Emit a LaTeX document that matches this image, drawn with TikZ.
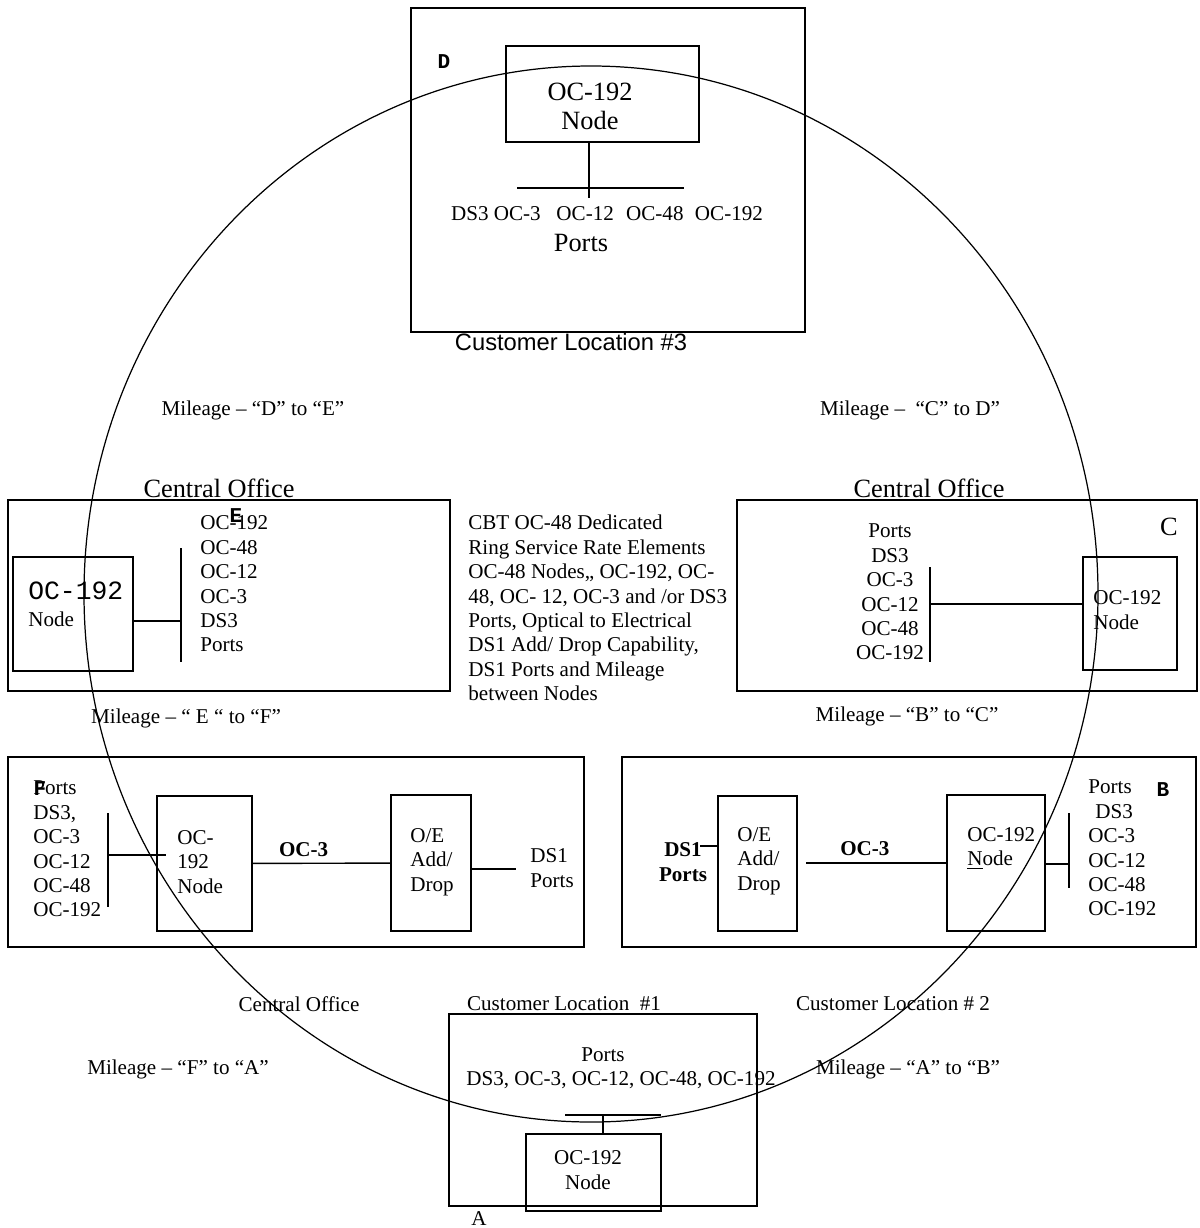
\documentclass[tikz,border=0pt]{standalone}
\usepackage{fontspec}
\setmainfont{Liberation Serif}
\setsansfont{Liberation Sans}
\setmonofont{Liberation Mono}
\usepackage{tikz}
\usetikzlibrary{positioning,calc}
\tikzset{
  box/.style 2 args={rectangle, draw, line width=0.9pt, inner sep=0pt,
                     minimum width=#1*0.02cm, minimum height=#2*0.02cm},
  txt/.style={inner sep=0pt, align=left, font=\fontsize{12}{13.9}\selectfont},
  bold/.style={inner sep=0pt, align=center, font=\fontsize{12}{13.9}\selectfont\bfseries},
  big/.style={inner sep=0pt, align=center, font=\fontsize{15}{16.5}\selectfont},
  tag/.style={inner sep=0pt, font=\ttfamily\bfseries\fontsize{12}{12}\selectfont},
  wire/.style={line width=0.8pt},
  ring/.style={line width=0.7pt},
}

\begin{document}
\begin{tikzpicture}[x=0.02cm, y=-0.02cm]
  \useasboundingbox (0,0) rectangle (1200,1228);
  \draw[ring] (591,594) ellipse [x radius=507, y radius=528];

  % customer location 3
  \node[box={394}{324}] (cl3) at (608,170) {};
  \node[box={193}{96}] (n3) at (602.5,94) {};
  \node[big] (n3t) at (590,106) {OC-192\\Node};
  \node[tag] (tD) at (444,62) {D};
  \coordinate (b3l) at (517,188); \coordinate (b3r) at (684,188); \coordinate (b3) at (589,198);
  \draw[wire] (b3l) -- (b3r);
  \draw[wire] (b3 |- n3.south) -- (b3);
  \node[txt] (p3) at (607,214) {DS3 OC-3\hspace{9pt}OC-12\hspace{7pt}OC-48\hspace{6.5pt}OC-192};
  \node[big] (p3b) at (581,243) {Ports};
  \node[inner sep=0pt, font=\sffamily\fontsize{13.5}{15}\selectfont] (cl3t) at (571,342) {Customer Location \#3};

  \node[txt] (m1) at (253,410) {Mileage – “D” to “E”};
  \node[txt] (m2) at (910,410) {Mileage –\ \ “C” to D”};

  % central office E
  \node[big] (co1) at (219,488) {Central Office};
  \node[box={442}{191}] (ce) at (229,595.5) {};
  \node[box={120}{114}] (ne) at (73,614) {};
  \node[inner sep=0pt, anchor=west, font=\ttfamily\fontsize{15}{15}\selectfont] (ne1) at (28,591) {OC-192};
  \node[txt, anchor=west] (ne2) at (28,619) {Node};
  \coordinate (be1) at (181,548); \coordinate (be2) at (181,662); \coordinate (be) at (181,621);
  \draw[wire] (be1) -- (be2);
  \draw[wire] (be -| ne.east) -- (be);
  \node[txt, anchor=west] (pe) at (200,584) {OC-192\\OC-48\\OC-12\\OC-3\\DS3\\Ports};
  \node[tag] (tE) at (236,516) {E};

  \node[txt, anchor=west] (cbt) at (468,608) {CBT OC-48 Dedicated\\Ring Service Rate Elements\\OC-48 Nodes,, OC-192, OC-\\48, OC- 12, OC-3 and /or DS3\\Ports, Optical to Electrical\\DS1 Add/ Drop Capability,\\DS1 Ports and Mileage\\between Nodes};

  % central office C
  \node[big] (co2) at (929,488) {Central Office};
  \node[box={460}{191}] (cc) at (967,595.5) {};
  \node[big] (tC) at (1169,527) {C};
  \node[box={94}{113}] (nc) at (1130,613.5) {};
  \node[txt, anchor=west] (nct) at (1093,610) {OC-192\\Node};
  \coordinate (bc1) at (930,567); \coordinate (bc2) at (930,662); \coordinate (bc) at (930,604);
  \draw[wire] (bc1) -- (bc2);
  \draw[wire] (bc) -- (bc -| nc.west);
  \node[txt, align=center] (pc) at (890,592) {Ports\\DS3\\OC-3\\OC-12\\OC-48\\OC-192};

  \node[txt] (m3) at (186,718) {Mileage – “ E “ to “F”};
  \node[txt] (m4) at (907,716) {Mileage – “B” to “C”};

  % central office F
  \node[box={576}{190}] (cf) at (296,852) {};
  \node[txt, anchor=west] (pf) at (33,849) {Ports\\DS3,\\OC-3\\OC-12\\OC-48\\OC-192};
  \node[tag] (tF) at (40,789) {F};
  \coordinate (bf1) at (108,813); \coordinate (bf2) at (108,907);
  \coordinate (bf) at (108,855); \coordinate (bfe) at (166,855);
  \draw[wire] (bf1) -- (bf2);
  \draw[wire] (bf) -- (bfe);
  \node[box={95}{135}] (nf) at (204.5,863.5) {};
  \node[txt, anchor=west] (nft) at (177,862) {OC-\\192\\Node};
  \node[box={80}{136}] (oef) at (431,863) {};
  \node[txt, anchor=west] (oeft) at (410,862) {O/E\\Add/\\Drop};
  \draw[wire] (nf) -- node[pos=0.37, above=3.5pt, bold] {OC-3} (oef);
  \coordinate (df) at (516,869);
  \draw[wire] (oef.east |- df) -- (df);
  \node[txt, anchor=west] (dff) at (530,868) {DS1\\Ports};

  % customer location 2
  \node[box={574}{190}] (cb) at (909,852) {};
  \node[bold] (db) at (683,862) {DS1\\Ports};
  \node[box={79}{135}] (oeb) at (757.5,863.5) {};
  \node[txt, anchor=west] (oebt) at (737,861) {O/E\\Add/\\Drop};
  \coordinate (dbe) at (700,846);
  \draw[wire] (dbe) -- (dbe -| oeb.west);
  \node[box={98}{136}] (nb) at (996,863) {};
  \node[txt, anchor=west] (nbt) at (967,848) {OC-192\\\underline{N}ode};
  \coordinate (gb) at (806,863);
  \draw[wire] (gb) -- node[pos=0.42, above=3.5pt, bold] {OC-3} (nb.west);
  \coordinate (bb1) at (1069,813); \coordinate (bb2) at (1069,888); \coordinate (bb) at (1069,864);
  \draw[wire] (bb1) -- (bb2);
  \draw[wire] (bb -| nb.east) -- (bb);
  \node[txt, anchor=west] (pb) at (1088,848) {Ports\\\hspace*{4pt}DS3\\OC-3\\OC-12\\OC-48\\OC-192};
  \node[tag] (tB) at (1163,790) {B};

  \node[txt] (co3) at (299,1004) {Central Office};
  \node[txt] (cl1) at (564,1004) {Customer Location\ \ \#1};
  \node[txt] (cl2) at (893,1004) {Customer Location \# 2};
  \node[txt] (m5) at (178,1069) {Mileage – “F” to “A”};
  \node[txt] (m6) at (908,1069) {Mileage – “A” to “B”};

  % customer location 1
  \node[box={308}{192}] (cla) at (603,1110) {};
  \node[txt] (pa1) at (603,1055) {Ports};
  \node[txt] (pa2) at (621,1080) {DS3, OC-3, OC-12, OC-48, OC-192};
  \coordinate (ba1) at (565,1115); \coordinate (ba2) at (661,1115); \coordinate (ba) at (603,1115);
  \draw[line width=1.4pt] (ba1) -- (ba2);
  \node[box={135}{77}] (na) at (593.5,1172.5) {};
  \node[txt, align=center] (nat) at (588,1170) {OC-192\\Node};
  \draw[wire] (ba) -- (ba |- na.north);
  \node[txt] (tA) at (479,1219) {A};
\end{tikzpicture}
\end{document}
